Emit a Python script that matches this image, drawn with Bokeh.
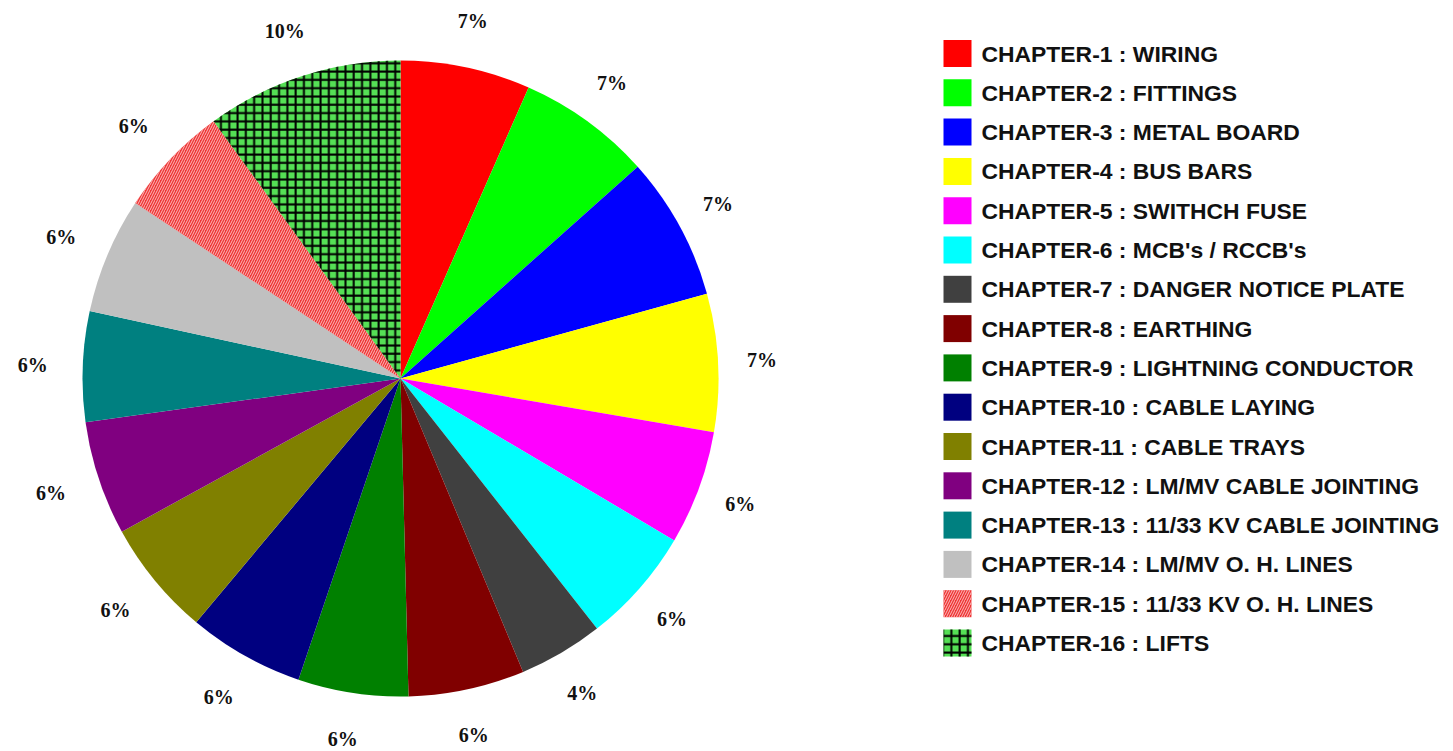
import numpy as np
from bokeh.plotting import figure
from bokeh.models import ColumnDataSource, Range1d
from bokeh.core.properties import value
from bokeh.embed import file_html
from bokeh.resources import INLINE

# ---- data ----
chapters = [
    "CHAPTER-1 : WIRING",
    "CHAPTER-2 : FITTINGS",
    "CHAPTER-3 : METAL BOARD",
    "CHAPTER-4 : BUS BARS",
    "CHAPTER-5 : SWITHCH FUSE",
    "CHAPTER-6 : MCB's / RCCB's",
    "CHAPTER-7 : DANGER NOTICE PLATE",
    "CHAPTER-8 : EARTHING",
    "CHAPTER-9 : LIGHTNING CONDUCTOR",
    "CHAPTER-10 : CABLE LAYING",
    "CHAPTER-11 : CABLE TRAYS",
    "CHAPTER-12 : LM/MV CABLE JOINTING",
    "CHAPTER-13 : 11/33 KV CABLE JOINTING",
    "CHAPTER-14 : LM/MV O. H. LINES",
    "CHAPTER-15 : 11/33 KV O. H. LINES",
    "CHAPTER-16 : LIFTS",
]
shares = [6.6, 6.8, 7.3, 7.0, 5.8, 5.9, 4.3, 5.9, 5.6, 5.9, 5.9, 5.8, 5.6, 5.9, 5.7, 10.0]
colors = ["#ff0000", "#00ff00", "#0000ff", "#ffff00", "#ff00ff", "#00ffff",
          "#404040", "#800000", "#008000", "#000080", "#808000", "#800080",
          "#008080", "#c0c0c0", "#ee3535", "#55e055"]
hatches = [" "] * 14 + ["/", "+"]
hatch_colors = ["white"] * 14 + ["#ffdddd", "black"]
hatch_scales = [8] * 14 + [5.0, 8.3]
hatch_weights = [1] * 14 + [0.8, 2.0]

# ---- layout ----
W, H = 1452, 750
def X(ximg): return ximg
def Y(yimg): return H - yimg

cx, cy = X(400), Y(378)
R = 318
RL = 365

vals = np.array(shares, dtype=float)
frac = vals / vals.sum()
theta_end = np.cumsum(frac) * 360.0
theta_start = theta_end - frac * 360.0
start = np.radians(90.0 - theta_end)
end = np.radians(90.0 - theta_start)
mid = np.radians(90.0 - (theta_start + theta_end) / 2.0)
pct_text = [f"{int(round(f * 100))}%" for f in frac]

src = ColumnDataSource(dict(
    start=start, end=end, color=colors, hatch=hatches, hcol=hatch_colors,
    hscale=hatch_scales, hweight=hatch_weights,
    lx=cx + RL * np.cos(mid), ly=cy + RL * np.sin(mid), pct=pct_text,
    name=chapters,
    kx=[X(957)] * len(chapters),
    ky=[Y(53 + 39.3 * i) for i in range(len(chapters))],
    tx=[X(981)] * len(chapters),
))

p = figure(width=W, height=H, output_backend="svg", toolbar_location=None,
           x_range=Range1d(0, W), y_range=Range1d(0, H), min_border=0)
p.axis.visible = False
p.grid.visible = False
p.outline_line_color = None
p.background_fill_color = "white"
p.border_fill_color = "white"

p.wedge(x=cx, y=cy, radius=R, radius_units="screen", start_angle="start",
        end_angle="end", direction="anticlock", fill_color="color",
        hatch_pattern="hatch", hatch_color="hcol", hatch_scale="hscale",
        hatch_weight="hweight", line_color=None, source=src)

p.text(x="lx", y="ly", text="pct", source=src, text_align="center",
       text_baseline="middle", x_offset=-3, text_font=value("Liberation Serif"),
       text_font_style="bold", text_font_size="20px", text_color="#111111")

# legend
p.rect(x="kx", y="ky", width=28, height=27, width_units="screen",
       height_units="screen", fill_color="color", hatch_pattern="hatch",
       hatch_color="hcol", hatch_scale="hscale", hatch_weight="hweight",
       line_color=None, source=src)
p.text(x="tx", y="ky", text="name", source=src, text_align="left",
       text_baseline="middle", text_font=value("Liberation Sans"),
       text_font_style="bold", text_font_size="22.9px", text_color="#111111")

open("out.html", "w").write(file_html(p, INLINE))
